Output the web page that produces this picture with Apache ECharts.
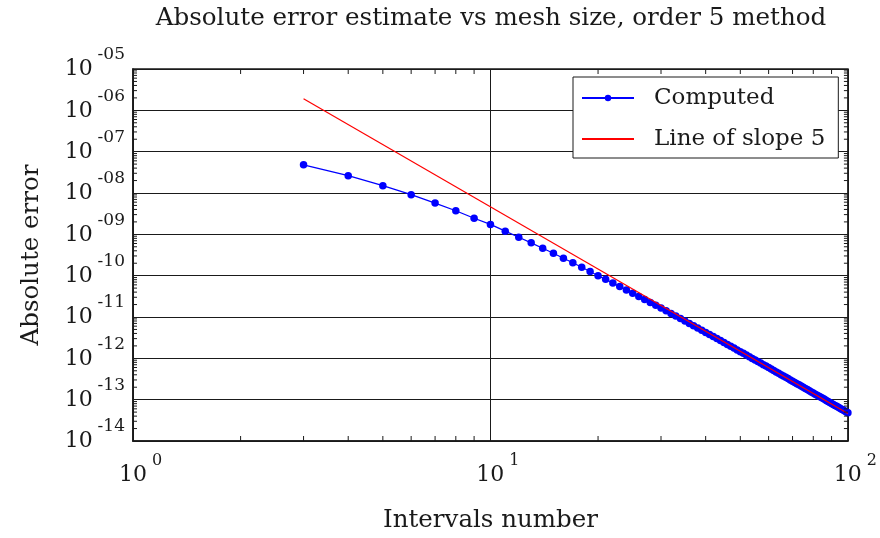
<!DOCTYPE html>
<html>
<head>
<meta charset="utf-8">
<script src="https://cdn.jsdelivr.net/npm/echarts@6/dist/echarts.min.js"></script>
<style>
  html, body { margin: 0; padding: 0; background: #fff; }
  #chart { width: 880px; height: 538px; }
</style>
</head>
<body>
<div id="chart"></div>
<script>
// Number of intervals used for each run
const intervals = [
  3, 4, 5, 6, 7, 8, 9, 10, 11, 12, 13, 14, 15, 16, 17, 18, 19, 20,
  21, 22, 23, 24, 25, 26, 27, 28, 29, 30, 31, 32, 33, 34, 35, 36, 37, 38, 39, 40,
  41, 42, 43, 44, 45, 46, 47, 48, 49, 50, 51, 52, 53, 54, 55, 56, 57, 58, 59, 60,
  61, 62, 63, 64, 65, 66, 67, 68, 69, 70, 71, 72, 73, 74, 75, 76, 77, 78, 79, 80,
  81, 82, 83, 84, 85, 86, 87, 88, 89, 90, 91, 92, 93, 94, 95, 96, 97, 98, 99, 100
];

// Absolute error estimate for each interval count
const computedError = [
  4.82e-8, 2.62e-8, 1.50e-8, 9.12e-9, 5.69e-9, 3.72e-9, 2.45e-9, 1.74e-9,
  1.19e-9, 8.49e-10, 6.22e-10, 4.61e-10, 3.49e-10, 2.64e-10, 2.05e-10, 1.60e-10,
  1.26e-10, 9.95e-11,
  8.14e-11, 6.65e-11, 5.46e-11, 4.52e-11, 3.76e-11, 3.15e-11, 2.66e-11, 2.25e-11,
  1.92e-11, 1.64e-11, 1.41e-11, 1.22e-11, 1.05e-11, 9.14e-12, 7.98e-12, 6.99e-12,
  6.14e-12, 5.41e-12, 4.78e-12, 4.24e-12,
  3.77e-12, 3.36e-12, 3.00e-12, 2.69e-12, 2.41e-12, 2.17e-12, 1.95e-12, 1.77e-12,
  1.60e-12, 1.45e-12, 1.32e-12, 1.20e-12, 1.09e-12, 9.97e-13, 9.12e-13, 8.35e-13,
  7.66e-13, 7.04e-13, 6.48e-13, 5.96e-13,
  5.50e-13, 5.08e-13, 4.70e-13, 4.35e-13, 4.03e-13, 3.74e-13, 3.47e-13, 3.23e-13,
  3.01e-13, 2.80e-13, 2.61e-13, 2.44e-13, 2.28e-13, 2.13e-13, 2.00e-13, 1.87e-13,
  1.75e-13, 1.64e-13, 1.54e-13, 1.45e-13,
  1.36e-13, 1.28e-13, 1.21e-13, 1.14e-13, 1.08e-13, 1.02e-13, 9.58e-14, 9.06e-14,
  8.56e-14, 8.10e-14, 7.67e-14, 7.27e-14, 6.89e-14, 6.53e-14, 6.20e-14, 5.89e-14,
  5.59e-14, 5.32e-14, 5.05e-14, 4.81e-14
];

// Reference line of slope 5 (end points)
const slopeX = [3, 100];
const slopeY = [1.9e-6, 4.62e-14];

// Axis ranges (decades)
const xRange = [1, 100];
const yRange = [1e-14, 1e-5];

// Minor tick positions (2..9 in every decade)
const xMinorTicks = [];
for (let d = 0; d < 2; d++) for (let k = 2; k <= 9; k++) xMinorTicks.push(k * Math.pow(10, d));
const yMinorTicks = [];
for (let d = -14; d < -5; d++) for (let k = 2; k <= 9; k++) yMinorTicks.push(k * Math.pow(10, d));

const FONT = 'DejaVu Serif';
const INK = '#1a1a1a';

function exponentOf(v) { return Math.round(Math.log10(v)); }

const chart = echarts.init(document.getElementById('chart'), null, { renderer: 'canvas' });

const option = {
  animation: false,
  backgroundColor: '#fff',
  textStyle: { fontFamily: FONT, color: INK },
  title: {
    text: 'Absolute error estimate vs mesh size, order 5 method',
    left: 486,
    textAlign: 'center',
    top: 1,
    textStyle: { fontFamily: FONT, fontSize: 24.6, fontWeight: 'normal', color: INK }
  },
  legend: {
    data: [
      { name: 'Computed' },
      { name: 'Line of slope 5', itemStyle: { opacity: 0 } }
    ],
    orient: 'vertical',
    left: 573,
    top: 77,
    padding: [7, 13, 5, 8],
    itemWidth: 52,
    itemHeight: 8,
    itemGap: 13,
    backgroundColor: '#fff',
    borderColor: INK,
    borderWidth: 1,
    borderRadius: 0,
    textStyle: { fontFamily: FONT, fontSize: 23, color: INK, lineHeight: 28, padding: [0, 0, 0, 15] }
  },
  grid: {
    left: 133, right: 30, top: 69, bottom: 96,
    show: true, borderColor: INK, borderWidth: 1.6, backgroundColor: '#fff'
  },
  xAxis: {
    type: 'log',
    logBase: 10,
    min: xRange[0],
    max: xRange[1],
    splitNumber: 2,
    name: 'Intervals number',
    nameLocation: 'middle',
    nameGap: 67,
    nameTextStyle: { fontFamily: FONT, fontSize: 24.5, color: INK },
    axisLine: { show: true, lineStyle: { color: INK, width: 1.6 } },
    axisTick: { show: false },
    splitLine: { show: true, lineStyle: { color: INK, width: 1 } },
    axisLabel: {
      margin: 12,
      showMinLabel: true,
      showMaxLabel: true,
      formatter: function (v) {
        return '{b|10}{s|' + exponentOf(v) + '}';
      },
      rich: {
        b: { fontFamily: FONT, fontSize: 22, color: INK, verticalAlign: 'bottom', padding: [0, 0, 11, 15] },
        s: { fontFamily: FONT, fontSize: 16, color: INK, verticalAlign: 'bottom', padding: [0, 0, 28, 5] }
      }
    }
  },
  yAxis: {
    type: 'log',
    logBase: 10,
    min: yRange[0],
    max: yRange[1],
    splitNumber: 9,
    name: 'Absolute error',
    nameLocation: 'middle',
    nameGap: 89,
    nameTextStyle: { fontFamily: FONT, fontSize: 24.5, color: INK },
    axisLine: { show: true, lineStyle: { color: INK, width: 1.6 } },
    axisTick: { show: false },
    splitLine: { show: true, lineStyle: { color: INK, width: 1 } },
    axisLabel: {
      margin: 8,
      showMinLabel: true,
      showMaxLabel: true,
      formatter: function (v) {
        const e = exponentOf(v);
        const mag = Math.abs(e);
        const txt = (e < 0 ? '-' : '') + (mag < 10 ? '0' : '') + mag;
        return '{b|10}{s|' + txt + '}';
      },
      rich: {
        b: { fontFamily: FONT, fontSize: 22, color: INK, verticalAlign: 'bottom', padding: [0, 0, 11, 0] },
        s: { fontFamily: FONT, fontSize: 17, color: INK, verticalAlign: 'bottom', padding: [0, 0, 28, 5] }
      }
    }
  },
  series: [
    {
      name: 'Line of slope 5',
      type: 'line',
      data: slopeX.map(function (x, i) { return [x, slopeY[i]]; }),
      showSymbol: false,
      symbol: 'none',
      lineStyle: { color: '#ff0000', width: 1.2 },
      itemStyle: { color: '#ff0000' },
      z: 4
    },
    {
      name: 'Computed',
      type: 'line',
      data: intervals.map(function (n, i) { return [n, computedError[i]]; }),
      symbol: 'circle',
      symbolSize: 7.5,
      lineStyle: { color: '#0000ff', width: 1.3 },
      itemStyle: { color: '#0000ff' },
      z: 3
    },
    {
      // minor ticks along the bottom and top edges
      type: 'custom',
      silent: true,
      data: xMinorTicks.map(function (v) { return [v, yRange[0]]; }),
      renderItem: function (params, api) {
        const v = api.value(0);
        const b = api.coord([v, yRange[0]]);
        const t = api.coord([v, yRange[1]]);
        const st = { stroke: INK, lineWidth: 1 };
        return {
          type: 'group',
          children: [
            { type: 'line', shape: { x1: b[0], y1: b[1], x2: b[0], y2: b[1] - 5 }, style: st },
            { type: 'line', shape: { x1: t[0], y1: t[1], x2: t[0], y2: t[1] + 5 }, style: st }
          ]
        };
      },
      z: 5
    },
    {
      // minor ticks along the left and right edges
      type: 'custom',
      silent: true,
      data: yMinorTicks.map(function (v) { return [xRange[0], v]; }),
      renderItem: function (params, api) {
        const v = api.value(1);
        const l = api.coord([xRange[0], v]);
        const r = api.coord([xRange[1], v]);
        const st = { stroke: INK, lineWidth: 1 };
        return {
          type: 'group',
          children: [
            { type: 'line', shape: { x1: l[0], y1: l[1], x2: l[0] + 4, y2: l[1] }, style: st },
            { type: 'line', shape: { x1: r[0], y1: r[1], x2: r[0] - 4, y2: r[1] }, style: st }
          ]
        };
      },
      z: 5
    }
  ]
};

chart.setOption(option);
</script>
</body>
</html>
